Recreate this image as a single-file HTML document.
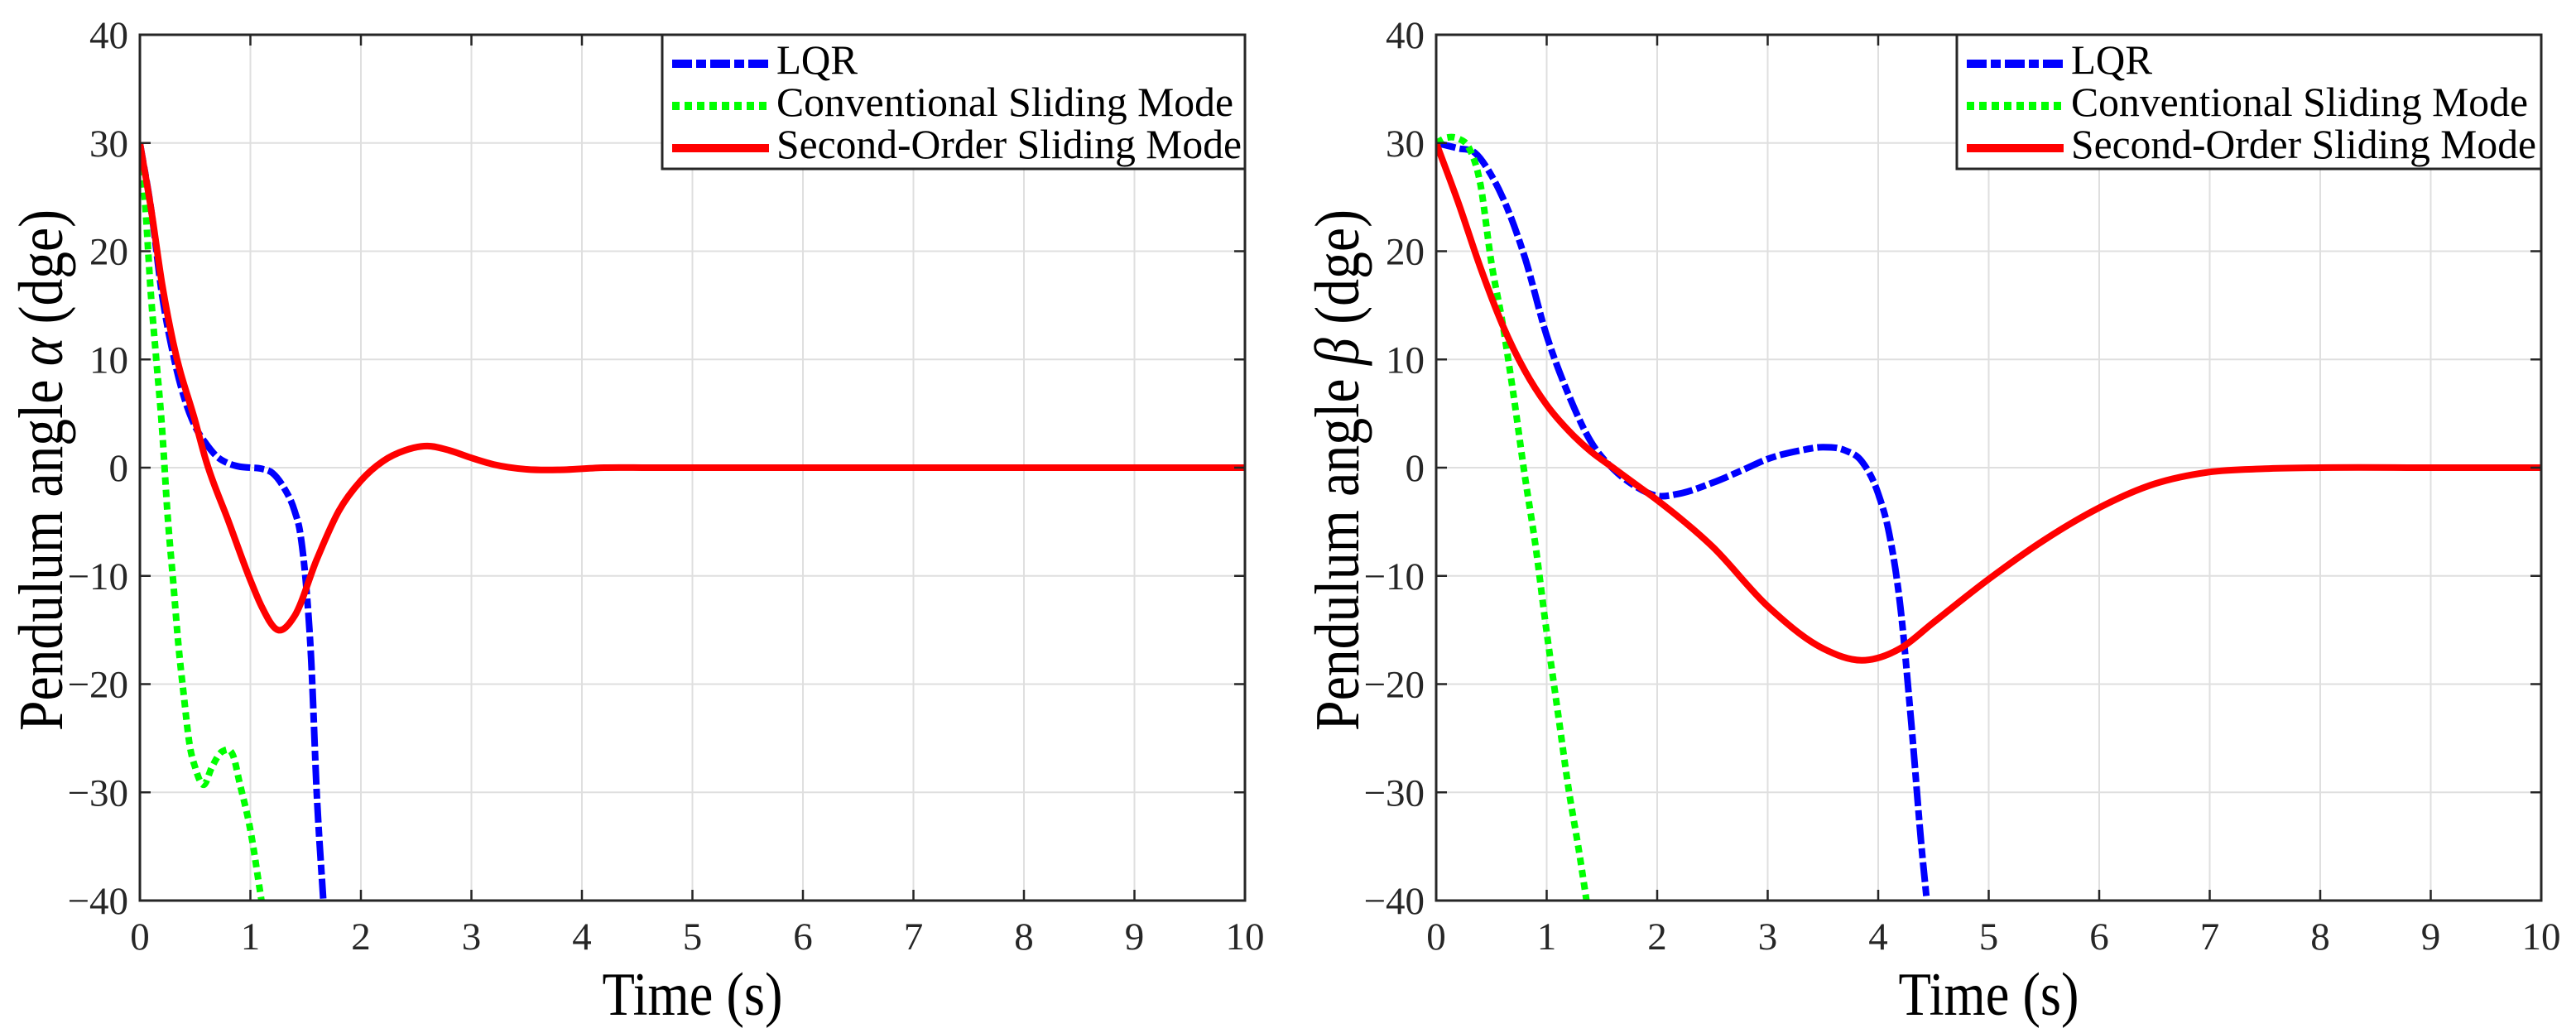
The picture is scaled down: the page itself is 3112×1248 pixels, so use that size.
<!DOCTYPE html>
<html><head><meta charset="utf-8"><style>
html,body{margin:0;padding:0;background:#fff;}
svg{display:block;font-family:"Liberation Serif",serif;}
</style></head><body>
<svg id="chart" width="3112" height="1248" viewBox="0 0 3112 1248" xmlns="http://www.w3.org/2000/svg"></svg>
<script>
const xTicks=[0,1,2,3,4,5,6,7,8,9,10];
const yTicks=[-40,-30,-20,-10,0,10,20,30,40];
const legendLabels=["LQR","Conventional Sliding Mode","Second-Order Sliding Mode"];
// Left panel (alpha)
const aLqrT=[0,0.1,0.2,0.3,0.4,0.5,0.6,0.7,0.8,0.9,1.0,1.1,1.2,1.3,1.4,1.45,1.5,1.55,1.6,1.66];
const aLqrV=[30,24,16,10.5,6.5,3.8,2.2,1.0,0.4,0.1,0,-0.1,-0.5,-1.8,-4,-6,-10.4,-17.7,-30,-40];
const aCsmT=[0,0.05,0.1,0.15,0.2,0.25,0.3,0.35,0.4,0.45,0.5,0.58,0.65,0.75,0.85,0.9,1.0,1.1];
const aCsmV=[30,24,16,9.8,3.7,-4.3,-10.4,-16.5,-21.3,-25.6,-27.7,-29.3,-27.7,-26.2,-26.8,-29,-33.5,-40];
const aSoT=[0,0.1,0.2,0.3,0.5,0.6,0.8,1.0,1.1,1.25,1.4,1.6,1.8,2.0,2.2,2.4,2.6,2.8,3.0,3.2,3.5,3.8,4.2,4.6,5,6,7,8,9,10];
const aSoV=[30,24,17,11.6,4.3,0.6,-4.9,-10.4,-12.8,-15,-13.7,-8.5,-4,-1.2,0.6,1.6,2.0,1.6,0.9,0.3,-0.15,-0.2,0,0,0,0,0,0,0,0];
// Right panel (beta)
const bLqrT=[0,0.2,0.35,0.5,0.6,0.8,1.0,1.2,1.4,1.6,1.8,2.0,2.2,2.5,2.8,3.0,3.3,3.5,3.7,3.85,4.0,4.1,4.2,4.3,4.4,4.44];
const bLqrV=[30,29.5,29.1,27,25,19.5,12.2,6.7,2.4,-0.1,-1.7,-2.6,-2.4,-1.4,-0.1,0.8,1.6,1.9,1.6,0.6,-2.4,-6.1,-12.8,-23.7,-35.9,-40];
const bCsmT=[0,0.1,0.2,0.3,0.4,0.5,0.6,0.7,0.8,0.9,1.0,1.1,1.2,1.3,1.36];
const bCsmV=[30,30.5,30.4,29.5,26.2,18.9,13.4,6.7,-0.6,-7.3,-15.2,-22.5,-29.8,-35.9,-40];
const bSoT=[0,0.2,0.4,0.6,0.8,1.0,1.2,1.4,1.6,1.8,2.0,2.5,3.0,3.5,3.85,4.2,4.5,5.0,5.5,6.0,6.5,7.0,7.5,8,9,10];
const bSoV=[30,24.5,18.5,13.2,9.0,5.8,3.4,1.5,0,-1.5,-3,-7.3,-12.8,-16.7,-17.8,-16.7,-14.3,-10.3,-6.7,-3.7,-1.5,-0.4,-0.1,0,0,0];

const NS="http://www.w3.org/2000/svg";
const svg=document.getElementById('chart');
function mk(tag,attrs,parent){const e=document.createElementNS(NS,tag);for(const k in attrs)e.setAttribute(k,attrs[k]);(parent||svg).appendChild(e);return e;}

function splinePath(T,V,xs,ys){
  const n=T.length,m=[];
  for(let i=0;i<n;i++){
    if(i==0)m.push((V[1]-V[0])/(T[1]-T[0]));
    else if(i==n-1)m.push((V[n-1]-V[n-2])/(T[n-1]-T[n-2]));
    else{const h0=T[i]-T[i-1],h1=T[i+1]-T[i];
      const d0=(V[i]-V[i-1])/h0,d1=(V[i+1]-V[i])/h1;
      m.push((d1*h0+d0*h1)/(h0+h1));}
  }
  let d="M"+xs(T[0]).toFixed(1)+","+ys(V[0]).toFixed(1);
  for(let i=0;i<n-1;i++){
    const h=T[i+1]-T[i];
    d+=" C"+xs(T[i]+h/3).toFixed(1)+","+ys(V[i]+m[i]*h/3).toFixed(1)+" "+xs(T[i+1]-h/3).toFixed(1)+","+ys(V[i+1]-m[i+1]*h/3).toFixed(1)+" "+xs(T[i+1]).toFixed(1)+","+ys(V[i+1]).toFixed(1);
  }
  return d;
}

function panel(id,L,R,T,B,greek,series,legX){
  const g=mk('g',{});
  
  
  const xs=t=>L+t/10*(R-L);
  const ys=v=>B-(v+40)/80*(B-T);
  mk('rect',{x:L,y:T,width:R-L,height:B-T,fill:'#fff'},g);
  const cp=mk('clipPath',{id:id+'-clip'},g);
  mk('rect',{x:L,y:T,width:R-L,height:B-T},cp);
  xTicks.forEach(t=>{const l=mk('line',{x1:xs(t),x2:xs(t),y1:T,y2:B,stroke:'#dfdfdf','stroke-width':2},g);
    });
  yTicks.forEach(v=>{const l=mk('line',{x1:L,x2:R,y1:ys(v),y2:ys(v),stroke:'#dfdfdf','stroke-width':2},g);
    });
  const styles=[
    {c:'#0000ff',w:8,da:'24,5,12,5',n:'lqr-line'},
    {c:'#00ff00',w:8,da:'9,6',n:'conventional-sliding-mode-line'},
    {c:'#ff0000',w:8,da:'',n:'second-order-sliding-mode-line'}];
  series.forEach((s,i)=>{
    const p=mk('path',{d:splinePath(s[0],s[1],xs,ys),fill:'none',stroke:styles[i].c,'stroke-width':styles[i].w,'stroke-dasharray':styles[i].da,'clip-path':'url(#'+id+'-clip)','stroke-linejoin':'round'},g);
    
    
  });
  xTicks.forEach(t=>{mk('line',{x1:xs(t),x2:xs(t),y1:B,y2:B-13,stroke:'#262626','stroke-width':2.5},g);
    mk('line',{x1:xs(t),x2:xs(t),y1:T,y2:T+13,stroke:'#262626','stroke-width':2.5},g);
    const tx=mk('text',{x:xs(t),y:1147,'font-size':47,'text-anchor':'middle',fill:'#262626'},g);
    tx.textContent=t;
    });
  yTicks.forEach(v=>{mk('line',{x1:L,x2:L+13,y1:ys(v),y2:ys(v),stroke:'#262626','stroke-width':2.5},g);
    mk('line',{x1:R,x2:R-13,y1:ys(v),y2:ys(v),stroke:'#262626','stroke-width':2.5},g);
    const tx=mk('text',{x:L-14,y:ys(v)+16,'font-size':47,'text-anchor':'end',fill:'#262626'},g);
    tx.textContent=v<0?'\u2212'+(-v):String(v);
    });
  const box=mk('rect',{x:L,y:T,width:R-L,height:B-T,fill:'none',stroke:'#262626','stroke-width':3},g);
  
  const xt=mk('text',{x:(L+R)/2,y:1226,'font-size':74,'text-anchor':'middle',fill:'#000',textLength:218,lengthAdjust:'spacingAndGlyphs'},g);
  xt.textContent='Time (s)';
  
  const yt=mk('text',{x:0,y:0,'font-size':76,'text-anchor':'middle',fill:'#000',transform:'translate('+(L-94)+',568) rotate(-90)',textLength:630,lengthAdjust:'spacingAndGlyphs'},g);
  yt.innerHTML='Pendulum angle <tspan font-style="italic">'+greek+'</tspan> (dge)';
  
  const lg=mk('g',{},g);
  
  mk('rect',{x:legX,y:T,width:R-legX,height:162,fill:'#fff',stroke:'#262626','stroke-width':3},lg);
  const rows=[77,128,179];
  legendLabels.forEach((lab,i)=>{
    const ln=mk('line',{x1:legX+12,x2:legX+129,y1:rows[i],y2:rows[i],stroke:styles[i].c,'stroke-width':10,'stroke-dasharray':styles[i].da},lg);
    
    const tx=mk('text',{x:legX+138,y:rows[i]+12,'font-size':50,fill:'#000'},lg);
    tx.textContent=lab;
    if(i>0){tx.setAttribute('textLength',i==1?552:562);tx.setAttribute('lengthAdjust','spacingAndGlyphs');}
    else{tx.setAttribute('textLength',98);tx.setAttribute('lengthAdjust','spacingAndGlyphs');}
    
  });
}
panel('alpha',169,1504,42,1088,'\u03b1',[[aLqrT,aLqrV],[aCsmT,aCsmV],[aSoT,aSoV]],800);
panel('beta',1735,3070,42,1088,'\u03b2',[[bLqrT,bLqrV],[bCsmT,bCsmV],[bSoT,bSoV]],2364);
</script>
</body></html>
